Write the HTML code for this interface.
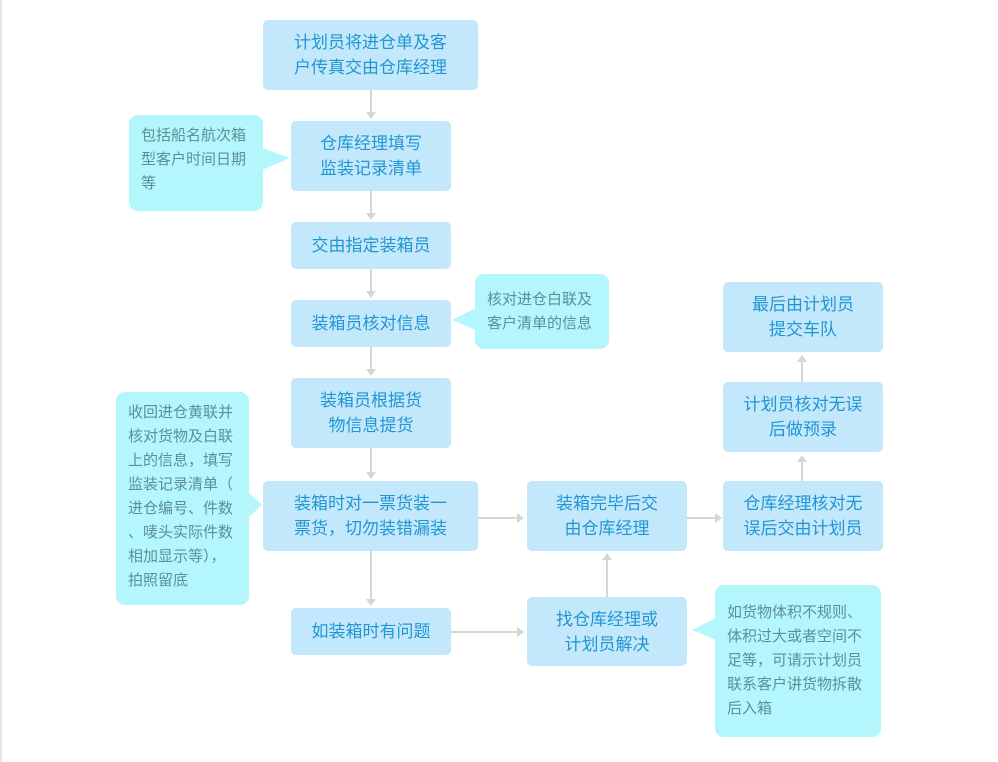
<!DOCTYPE html>
<html><head><meta charset="utf-8"><style>
body{margin:0;width:998px;height:762px;background:#fff;position:relative;overflow:hidden;font-family:"Liberation Sans","Noto Sans CJK SC",sans-serif}
.b{position:absolute;background:#c4e8fb;border-radius:5px;color:#2196d3;font-size:17px;line-height:25px;display:flex;align-items:center;justify-content:center;text-align:center}
.c{position:absolute;background:#b3f6fc;border-radius:9px;color:#5d8f98;font-size:15px;line-height:24px;box-sizing:border-box;padding:8px 12px;white-space:nowrap}
svg{position:absolute;left:0;top:0}
</style></head><body>
<div style="position:absolute;left:0;top:0;width:2px;height:762px;background:#e6e6e6"></div>
<svg width="998" height="762">
<g stroke="#d6d6d6" stroke-width="2" fill="none">
<line x1="371" y1="90" x2="371" y2="117"/><line x1="371" y1="191" x2="371" y2="218"/>
<line x1="371" y1="269" x2="371" y2="296"/><line x1="371" y1="347" x2="371" y2="374"/>
<line x1="371" y1="448" x2="371" y2="477"/><line x1="371" y1="551" x2="371" y2="604"/>
<line x1="478" y1="518" x2="521" y2="518"/><line x1="687" y1="518" x2="719" y2="518"/>
<line x1="451" y1="632" x2="521" y2="632"/><line x1="607" y1="597" x2="607" y2="555"/>
<line x1="802" y1="481" x2="802" y2="457"/><line x1="802" y1="382" x2="802" y2="357"/>
</g>
<g fill="#d6d6d6">
<polygon points="366,112 376,112 371,119"/><polygon points="366,213 376,213 371,220"/>
<polygon points="366,291 376,291 371,298"/><polygon points="366,369 376,369 371,376"/>
<polygon points="366,472 376,472 371,479"/><polygon points="366,599 376,599 371,606"/>
<polygon points="517,513 517,523 524,518"/><polygon points="715,513 715,523 722,518"/>
<polygon points="517,627 517,637 524,632"/><polygon points="602,560 612,560 607,553"/>
<polygon points="797,462 807,462 802,455"/><polygon points="797,362 807,362 802,355"/>
</g>
<g fill="#b3f6fc">
<polygon points="262,148 290,158 262,170"/><polygon points="476,308 452,320 476,330"/>
<polygon points="248,492 262,505 248,518"/><polygon points="716,618 692,630 716,640"/>
</g>
</svg>
<div class="b" style="left:263px;top:20px;width:215px;height:70px">计划员将进仓单及客<br>户传真交由仓库经理</div>
<div class="b" style="left:291px;top:121px;width:160px;height:70px">仓库经理填写<br>监装记录清单</div>
<div class="b" style="left:291px;top:222px;width:160px;height:47px">交由指定装箱员</div>
<div class="b" style="left:291px;top:300px;width:160px;height:47px">装箱员核对信息</div>
<div class="b" style="left:291px;top:378px;width:160px;height:70px">装箱员根据货<br>物信息提货</div>
<div class="b" style="left:263px;top:481px;width:215px;height:70px">装箱时对一票货装一<br>票货，切勿装错漏装</div>
<div class="b" style="left:291px;top:608px;width:160px;height:47px">如装箱时有问题</div>
<div class="b" style="left:527px;top:481px;width:160px;height:70px">装箱完毕后交<br>由仓库经理</div>
<div class="b" style="left:527px;top:597px;width:160px;height:69px">找仓库经理或<br>计划员解决</div>
<div class="b" style="left:723px;top:481px;width:160px;height:70px">仓库经理核对无<br>误后交由计划员</div>
<div class="b" style="left:723px;top:382px;width:160px;height:70px">计划员核对无误<br>后做预录</div>
<div class="b" style="left:723px;top:282px;width:160px;height:70px">最后由计划员<br>提交车队</div>
<div class="c" style="left:129px;top:115px;width:134px;height:96px;padding-top:9px">包括船名航次箱<br>型客户时间日期<br>等</div>
<div class="c" style="left:475px;top:274px;width:134px;height:75px;padding-top:14px">核对进仓白联及<br>客户清单的信息</div>
<div class="c" style="left:116px;top:392px;width:133px;height:213px;padding-top:9px">收回进仓黄联并<br>核对货物及白联<br>上的信息，填写<br>监装记录清单（<br>进仓编号、件数<br>、唛头实际件数<br>相加显示等），<br>拍照留底</div>
<div class="c" style="left:715px;top:585px;width:166px;height:152px;padding-top:16px">如货物体积不规则、<br>体积过大或者空间不<br>足等，可请示计划员<br>联系客户讲货物拆散<br>后入箱</div>
</body></html>
